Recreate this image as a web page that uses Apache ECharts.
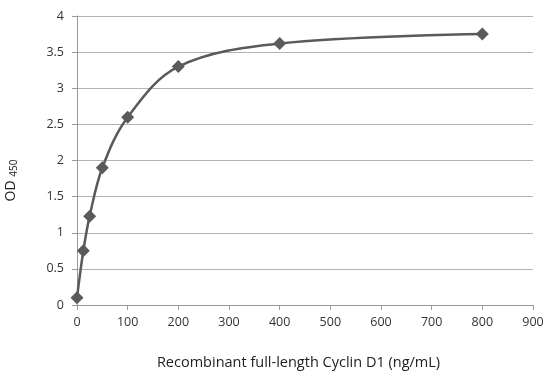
<!DOCTYPE html>
<html><head><meta charset="utf-8">
<script src="https://cdn.jsdelivr.net/npm/echarts@6/dist/echarts.min.js"></script>
<style>html,body{margin:0;padding:0;background:#fff}#c{width:559px;height:380px}</style>
</head><body><div id="c"></div>
<script>
var concentrations = [0, 12.5, 25, 50, 100, 200, 400, 800];
var odValues = [0.1, 0.75, 1.23, 1.9, 2.6, 3.3, 3.62, 3.75];
var xTitle = 'Recombinant full-length Cyclin D1 (ng/mL)';
var chart = echarts.init(document.getElementById('c'));
var font = 'Open Sans';
chart.setOption({
  animation: false,
  grid: {left: 77, right: 26, top: 16, bottom: 75, containLabel: false, outerBoundsMode: 'none'},
  xAxis: {
    type: 'value', min: 0, max: 900, interval: 100,
    name: xTitle, nameLocation: 'middle', nameGap: 50,
    nameTextStyle: {fontFamily: font, fontSize: 14.5, color: '#222', padding: [0, 13, 0, 0]},
    axisLine: {lineStyle: {color: '#999', width: 1}},
    axisTick: {show: true, length: 5, lineStyle: {color: '#999'}},
    axisLabel: {fontFamily: font, fontSize: 12.5, color: '#333', margin: 11},
    splitLine: {show: false}
  },
  yAxis: {
    type: 'value', min: 0, max: 4, interval: 0.5,
    name: '{a|OD }{b|450}', nameLocation: 'middle', nameGap: 58, nameRotate: 90,
    nameTextStyle: {
      padding: [0, 40, 0, 0],
      rich: {
        a: {fontFamily: font, fontSize: 14, color: '#222'},
        b: {fontFamily: font, fontSize: 10, color: '#222', padding: [6, 0, 0, 0]}
      }
    },
    axisLine: {show: true, lineStyle: {color: '#999', width: 1}},
    axisTick: {show: true, length: 5, lineStyle: {color: '#999'}},
    axisLabel: {fontFamily: font, fontSize: 12.5, color: '#333', margin: 13},
    splitLine: {lineStyle: {color: '#b3b3b3', width: 1}}
  },
  series: [{
    type: 'line',
    data: concentrations.map(function (c, i) { return [c, odValues[i]]; }),
    smooth: 0.35,
    symbol: 'diamond', symbolSize: 13,
    lineStyle: {color: '#5a5a5a', width: 2.5},
    itemStyle: {color: '#5a5a5a'}
  }]
});
</script></body></html>
